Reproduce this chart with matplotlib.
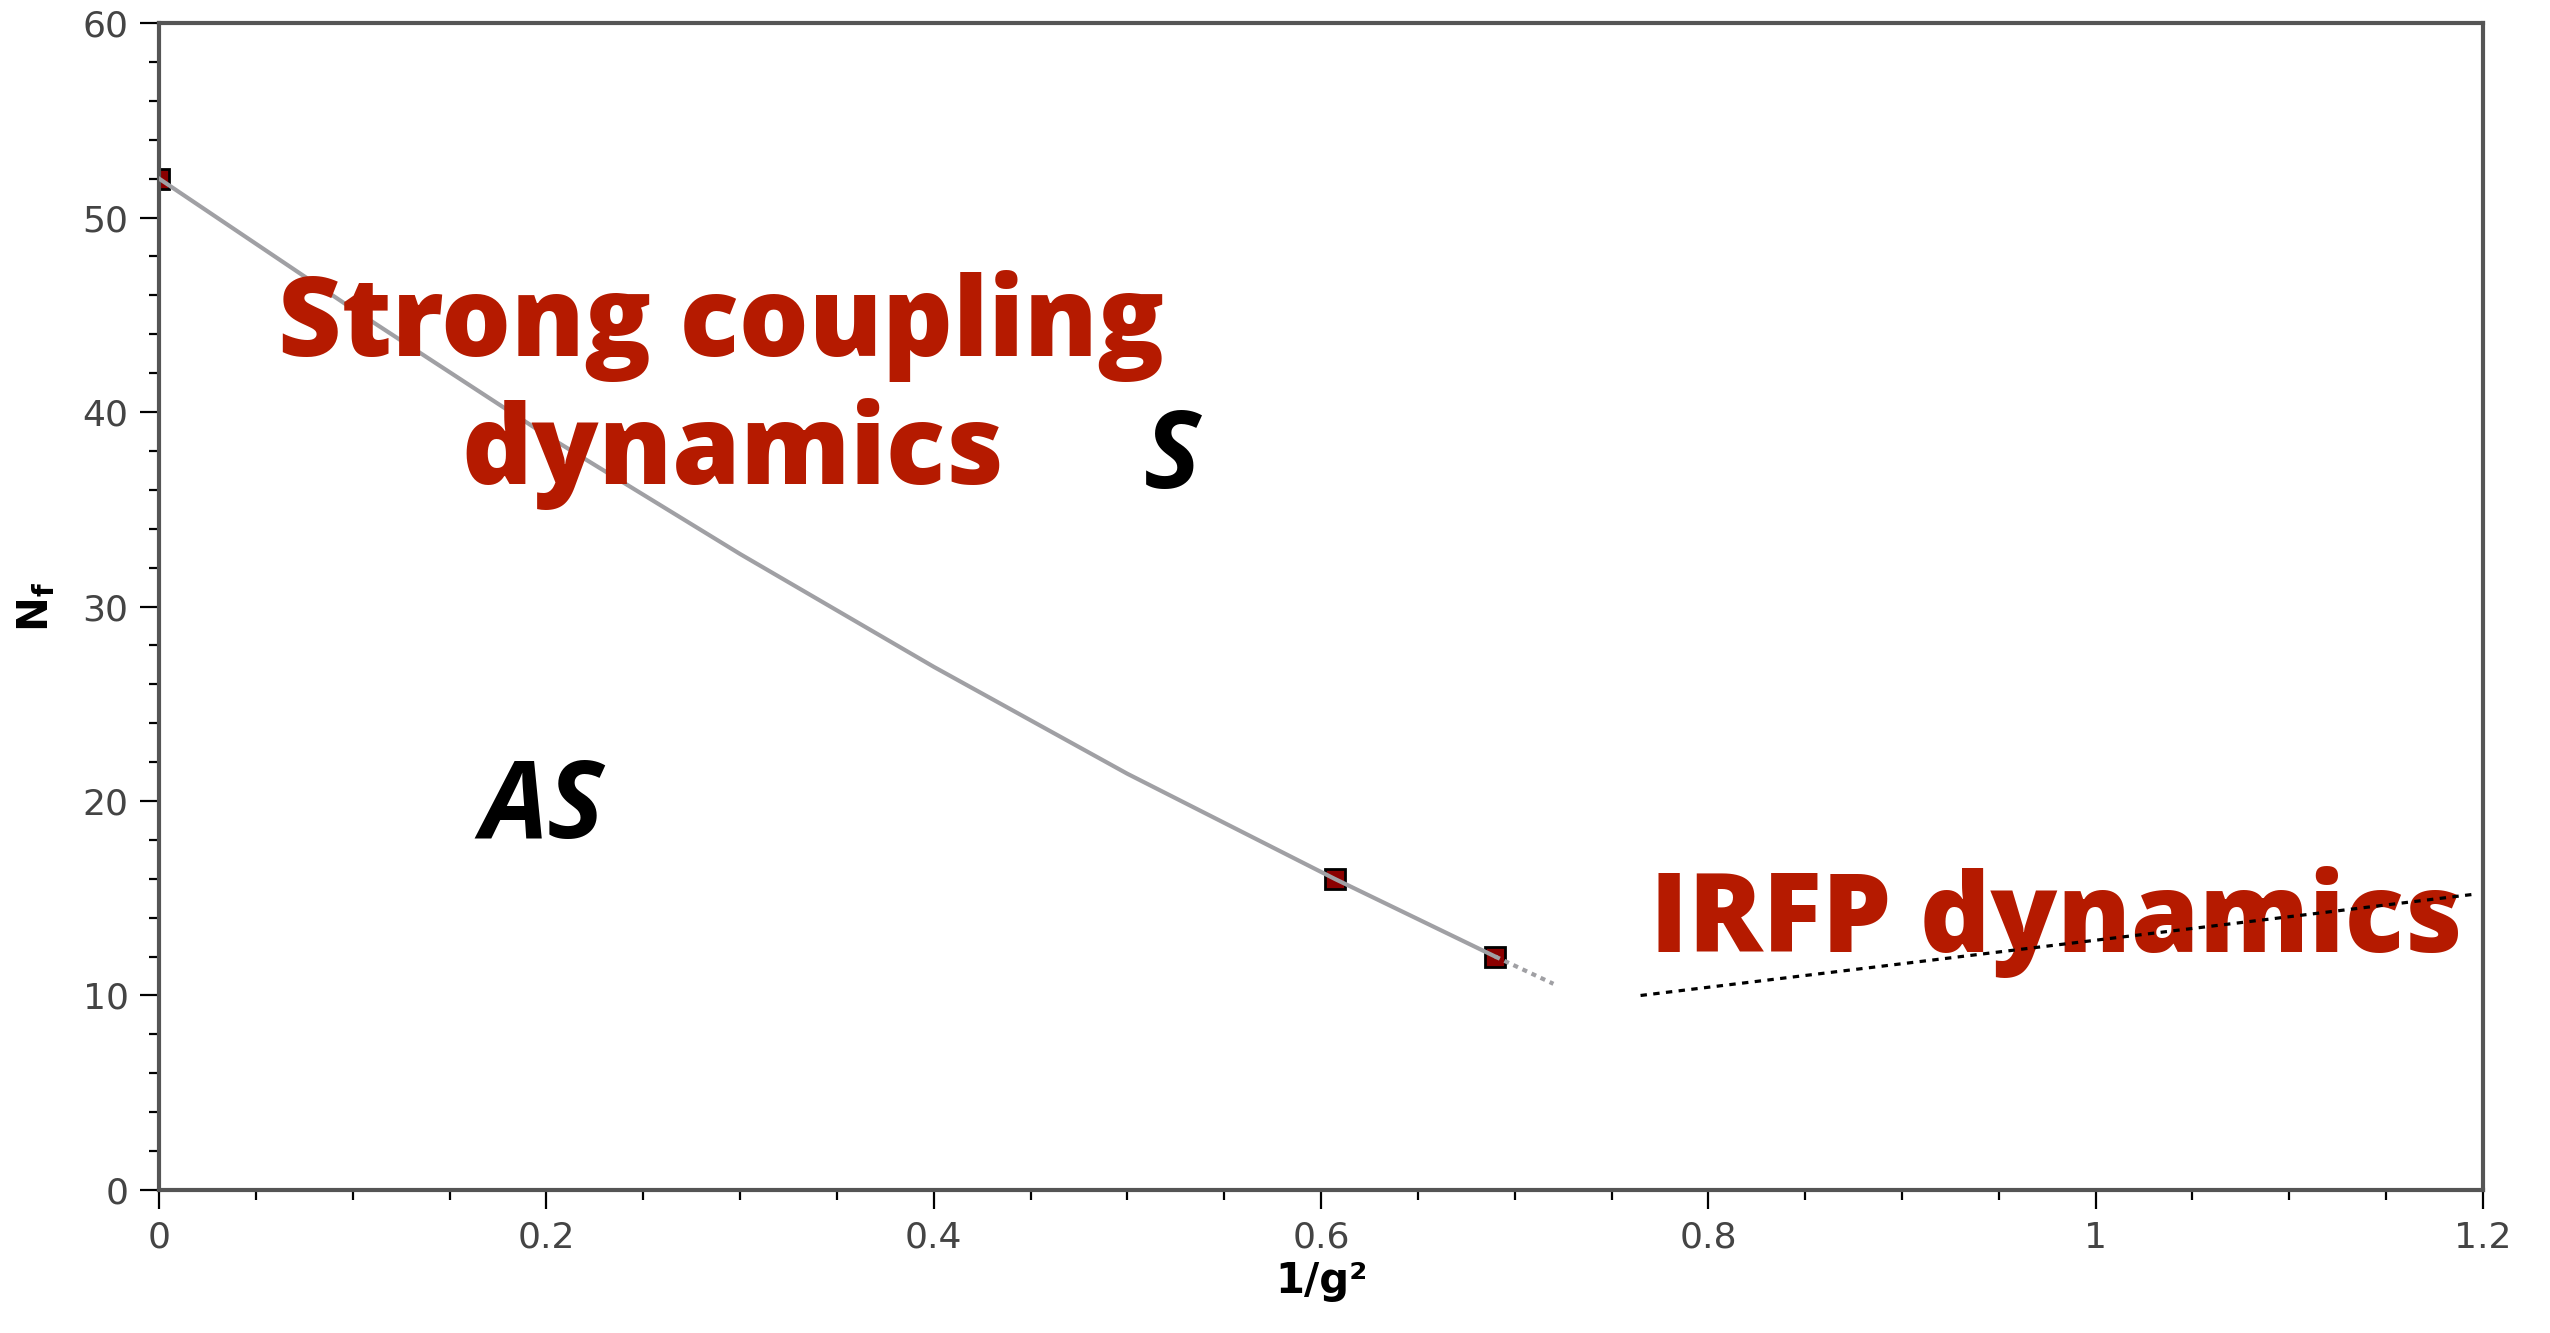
import matplotlib
matplotlib.use("Agg")
import matplotlib.pyplot as plt
from matplotlib.ticker import MultipleLocator

# Data
pts_x = [0.0, 0.607, 0.69]
pts_y = [52.0, 16.0, 12.0]
curve_x = [0.0, 0.1, 0.2, 0.3, 0.4, 0.5, 0.607, 0.69]
curve_y = [52.0, 45.3, 38.8, 32.7, 26.9, 21.4, 16.0, 12.0]
ext_x = [0.69, 0.72]
ext_y = [12.0, 10.6]
irfp_x = [0.765, 1.195]
irfp_y = [10.0, 15.2]
xticks = [0, 0.2, 0.4, 0.6, 0.8, 1.0, 1.2]
xticklabels = ["0", "0.2", "0.4", "0.6", "0.8", "1", "1.2"]
yticks = [0, 10, 20, 30, 40, 50, 60]

RED = "#b51a00"
fig = plt.figure(figsize=(25.5, 13.33), dpi=100)
ax = fig.add_axes([0.0624, 0.1073, 0.9113, 0.8754])

ax.plot(pts_x, pts_y, linestyle="none", marker="s", markersize=14,
        markerfacecolor="#8b0000", markeredgecolor="black", markeredgewidth=2, zorder=2)
ax.plot(curve_x, curve_y, color="#a0a0a4", lw=3.0, zorder=3)
ax.plot(ext_x, ext_y, color="#a0a0a4", lw=3.0, linestyle=(0, (1.2, 1.2)), zorder=3)
ax.plot(irfp_x, irfp_y, color="black", lw=2.3, linestyle=(0, (2.0, 2.0)), zorder=6)

ax.set_xlim(0, 1.2)
ax.set_ylim(0, 60)
ax.set_xticks(xticks)
ax.set_xticklabels(xticklabels)
ax.set_yticks(yticks)
ax.xaxis.set_minor_locator(MultipleLocator(0.05))
ax.yaxis.set_minor_locator(MultipleLocator(2))
ax.tick_params(which="major", direction="out", length=14, width=1.6, color="black",
               labelsize=26, labelcolor="#444444", pad=8)
ax.tick_params(which="minor", direction="out", length=7, width=1.6, color="black")
for s in ax.spines.values():
    s.set_color("#555555")
    s.set_linewidth(3)

ax.set_xlabel("1/g²", fontsize=30, fontweight="bold", labelpad=4)
ax.set_ylabel(r"N$_\mathbf{f}$", fontsize=30, fontweight="bold", labelpad=18)

tfont = dict(family="Open Sans", weight=800, color=RED, fontsize=79, zorder=5)
ax.text(0.290, 42.9, "Strong coupling", ha="center", va="baseline", **tfont)
ax.text(0.296, 36.3, "dynamics", ha="center", va="baseline", **tfont)
ax.text(0.770, 12.26, "IRFP dynamics", ha="left", va="baseline", **tfont)

sfont = dict(family="Open Sans", weight="bold", style="italic", color="black", fontsize=77, zorder=5)
ax.text(0.523, 36.1, "S", ha="center", va="baseline", **sfont)
ax.text(0.198, 18.1, "AS", ha="center", va="baseline", **sfont)

fig.savefig("out.png", dpi=100)
